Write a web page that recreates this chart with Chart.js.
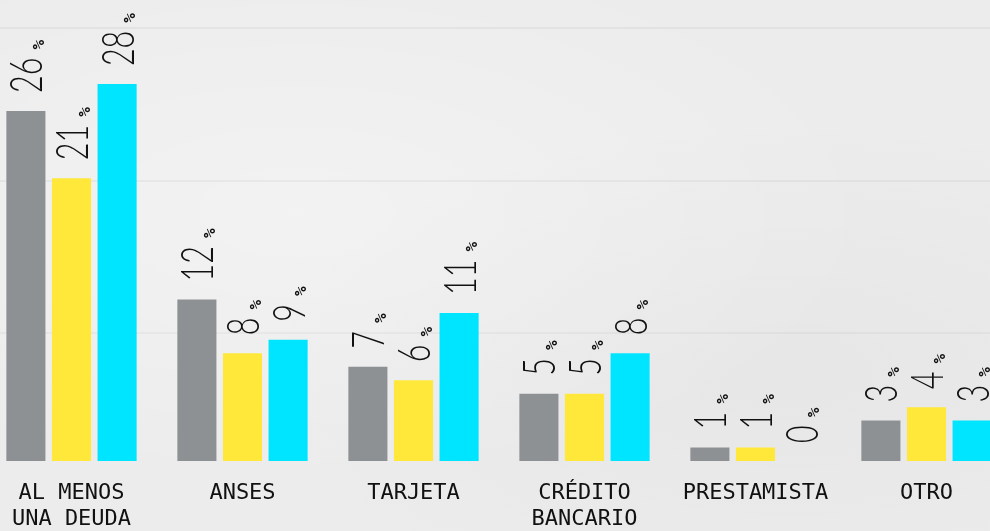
<!DOCTYPE html>
<html>
<head>
<meta charset="utf-8">
<script src="https://cdn.jsdelivr.net/npm/chart.js@4/dist/chart.umd.min.js"></script>
<style>
html,body{margin:0;padding:0;width:990px;height:531px;overflow:hidden;}
body{
  background-color:#ececec;
  background-image:
    linear-gradient(to bottom, transparent 27px, rgba(0,0,0,0.045) 27px, rgba(0,0,0,0.045) 29px, transparent 29px),
    linear-gradient(to bottom, transparent 180px, rgba(0,0,0,0.045) 180px, rgba(0,0,0,0.045) 182px, transparent 182px),
    linear-gradient(to bottom, transparent 332px, rgba(0,0,0,0.035) 332px, rgba(0,0,0,0.035) 334px, transparent 334px),
    radial-gradient(ellipse at 30% 40%, rgba(255,255,255,0.35), transparent 60%),
    radial-gradient(ellipse at 80% 70%, rgba(0,0,0,0.025), transparent 50%);
  position:relative;
}
#wrap{position:absolute;left:-14.5px;top:0;width:1026px;height:531px;}
</style>
</head>
<body>
<div id="wrap"><canvas id="c"></canvas></div>
<script>
const categories = [["AL MENOS","UNA DEUDA"],"ANSES","TARJETA",["CRÉDITO","BANCARIO"],"PRESTAMISTA","OTRO"];
const seriesGray   = [26, 12, 7, 5, 1, 3];
const seriesYellow = [21, 8, 6, 5, 1, 4];
const seriesCyan   = [28, 9, 11, 8, 0, 3];
const colors = ["#8e9194", "#ffe83a", "#00e5ff"];

const labelPlugin = {
  id: 'rotLabels',
  afterDatasetsDraw(chart) {
    const ctx = chart.ctx;
    chart.data.datasets.forEach((ds, di) => {
      const meta = chart.getDatasetMeta(di);
      meta.data.forEach((bar, i) => {
        const v = ds.data[i];
        ctx.save();
        ctx.translate(bar.x, bar.y - 18);
        ctx.rotate(-Math.PI / 2);
        ctx.save();
        ctx.scale(0.68, 1);
        ctx.fillStyle = "#111";
        ctx.textBaseline = "middle";
        ctx.textAlign = "left";
        ctx.font = "300 45px Lato";
        const txt = String(v);
        ctx.fillText(txt, 0, 2);
        const w = ctx.measureText(txt).width * 0.68;
        ctx.restore();
        ctx.fillStyle = "#111";
        ctx.textBaseline = "alphabetic";
        ctx.textAlign = "left";
        ctx.font = "bold 16px 'DejaVu Sans Mono'";
        ctx.fillText("%", w + 8, 18);
        ctx.restore();
      });
    });
  }
};

new Chart(document.getElementById('c'), {
  type: 'bar',
  data: {
    labels: categories,
    datasets: [
      { data: seriesGray, backgroundColor: colors[0] },
      { data: seriesYellow, backgroundColor: colors[1] },
      { data: seriesCyan, backgroundColor: colors[2] }
    ]
  },
  options: {
    responsive: true,
    maintainAspectRatio: false,
    animation: false,
    layout: { padding: 0 },
    categoryPercentage: 0.8,
    barPercentage: 0.857,
    plugins: { legend: { display: false }, tooltip: { enabled: false } },
    scales: {
      x: {
        grid: { display: false },
        border: { display: false },
        ticks: {
          color: "#111",
          font: { family: "'DejaVu Sans Mono'", size: 22, lineHeight: 1.2 },
          padding: 11,
          maxRotation: 0,
          autoSkip: false
        },
        afterFit(scale) { scale.height = 70; }
      },
      y: {
        display: false,
        min: 0,
        max: 34.25
      }
    }
  },
  plugins: [labelPlugin]
});
</script>
</body>
</html>
